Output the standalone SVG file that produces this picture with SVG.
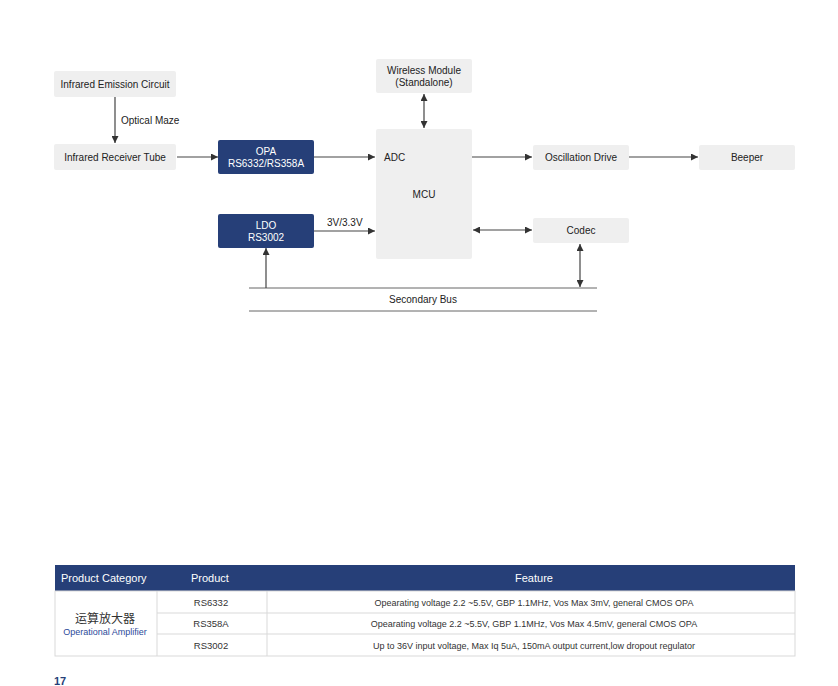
<svg xmlns="http://www.w3.org/2000/svg" width="838" height="686" viewBox="0 0 838 686">
<defs>
<marker id="ah" viewBox="0 0 10 10" refX="10" refY="5" markerWidth="7" markerHeight="7" markerUnits="userSpaceOnUse" orient="auto-start-reverse">
<path d="M0,0 L10,5 L0,10 z" fill="#333"/>
</marker>
<style>
.g{fill:#efefef}
.b{fill:#263f78}
.t{font-family:"Liberation Sans",Arial,sans-serif;font-size:10px;fill:#222}
.w{font-family:"Liberation Sans",Arial,sans-serif;font-size:10px;fill:#fff}
.c{stroke:#444;stroke-width:1.2;fill:none}
.tb{font-family:"Liberation Sans",Arial,sans-serif;font-size:9px;fill:#333}
.tp{font-family:"Liberation Sans",Arial,sans-serif;font-size:9.5px;fill:#333}
.th{font-family:"Liberation Sans",Arial,sans-serif;font-size:11px;fill:#fff}
.gl{stroke:#d9d9d9;stroke-width:1;fill:none}
</style>
</defs>
<rect width="838" height="686" fill="#fff"/>
<g id="emission"><rect class="g" x="54" y="71" width="122" height="26" rx="2"/><text class="t" x="115" y="88" text-anchor="middle">Infrared Emission Circuit</text></g>
<g id="receiver"><rect class="g" x="54" y="144" width="122" height="26" rx="2"/><text class="t" x="115" y="161" text-anchor="middle">Infrared Receiver Tube</text></g>
<g id="opa"><rect class="b" x="218" y="140" width="96" height="34" rx="2"/><text class="w" x="266" y="155" text-anchor="middle">OPA</text><text class="w" x="266" y="167" text-anchor="middle">RS6332/RS358A</text></g>
<g id="ldo"><rect class="b" x="218" y="214" width="96" height="34" rx="2"/><text class="w" x="266" y="229" text-anchor="middle">LDO</text><text class="w" x="266" y="241" text-anchor="middle">RS3002</text></g>
<g id="wireless"><rect class="g" x="376" y="59" width="96" height="34" rx="2"/><text class="t" x="424" y="74" text-anchor="middle">Wireless Module</text><text class="t" x="424" y="86" text-anchor="middle">(Standalone)</text></g>
<g id="mcu"><rect class="g" x="376" y="129" width="96" height="130" rx="2"/><text class="t" x="384" y="161">ADC</text><text class="t" x="424" y="198" text-anchor="middle">MCU</text></g>
<g id="osc"><rect class="g" x="533" y="145" width="96" height="25" rx="2"/><text class="t" x="581" y="161" text-anchor="middle">Oscillation Drive</text></g>
<g id="beeper"><rect class="g" x="699" y="145" width="96" height="25" rx="2"/><text class="t" x="747" y="161" text-anchor="middle">Beeper</text></g>
<g id="codec"><rect class="g" x="533" y="218" width="96" height="25" rx="2"/><text class="t" x="581" y="234" text-anchor="middle">Codec</text></g>
<g id="bus"><line x1="249" y1="288" x2="597" y2="288" stroke="#666" stroke-width="1"/><line x1="249" y1="311" x2="597" y2="311" stroke="#666" stroke-width="1"/><text class="t" x="423" y="303" text-anchor="middle">Secondary Bus</text></g>
<g id="connectors">
<line class="c" x1="115" y1="97" x2="115" y2="143" marker-end="url(#ah)"/>
<text class="t" x="121" y="124">Optical Maze</text>
<line class="c" x1="177" y1="157" x2="218" y2="157" marker-end="url(#ah)"/>
<line class="c" x1="314" y1="157" x2="375" y2="157" marker-end="url(#ah)"/>
<line class="c" x1="314" y1="231" x2="375" y2="231" marker-end="url(#ah)"/>
<text class="t" x="327" y="226">3V/3.3V</text>
<line class="c" x1="266" y1="288" x2="266" y2="248" marker-end="url(#ah)"/>
<line class="c" x1="424" y1="94" x2="424" y2="128" marker-start="url(#ah)" marker-end="url(#ah)"/>
<line class="c" x1="472" y1="157" x2="532" y2="157" marker-end="url(#ah)"/>
<line class="c" x1="629" y1="157" x2="698" y2="157" marker-end="url(#ah)"/>
<line class="c" x1="473" y1="230" x2="532" y2="230" marker-start="url(#ah)" marker-end="url(#ah)"/>
<line class="c" x1="580" y1="244" x2="580" y2="287" marker-start="url(#ah)" marker-end="url(#ah)"/>
</g>
<g id="table">
<rect x="55" y="565" width="740" height="26" fill="#263f78"/>
<text class="th" x="61" y="582">Product Category</text>
<text class="th" x="191" y="582">Product</text>
<text class="th" x="534" y="582" text-anchor="middle">Feature</text>
<rect class="gl" x="55" y="591" width="740" height="65"/>
<line class="gl" x1="157" y1="591" x2="157" y2="656"/>
<line class="gl" x1="267" y1="591" x2="267" y2="656"/>
<line class="gl" x1="157" y1="613" x2="795" y2="613"/>
<line class="gl" x1="157" y1="634" x2="795" y2="634"/>
<text x="105" y="623" text-anchor="middle" font-family="'Noto Sans CJK SC',sans-serif" font-size="12" fill="#333">运算放大器</text>
<text x="105" y="635" text-anchor="middle" font-family="'Liberation Sans',Arial,sans-serif" font-size="9" fill="#2c4a9a">Operational Amplifier</text>
<text class="tp" x="211" y="606" text-anchor="middle">RS6332</text>
<text class="tp" x="211" y="627" text-anchor="middle">RS358A</text>
<text class="tp" x="211" y="649" text-anchor="middle">RS3002</text>
<text class="tb" x="534" y="606" text-anchor="middle">Opearating voltage 2.2 ~5.5V, GBP 1.1MHz,  Vos Max 3mV, general CMOS OPA</text>
<text class="tb" x="534" y="627" text-anchor="middle">Opearating voltage 2.2 ~5.5V, GBP 1.1MHz,  Vos Max 4.5mV, general CMOS OPA</text>
<text class="tb" x="534" y="649" text-anchor="middle">Up to 36V input voltage,  Max Iq 5uA, 150mA output current,low dropout regulator</text>
</g>
<text x="54" y="685" font-family="'Liberation Sans',Arial,sans-serif" font-size="11" font-weight="bold" fill="#263f78">17</text>
</svg>
